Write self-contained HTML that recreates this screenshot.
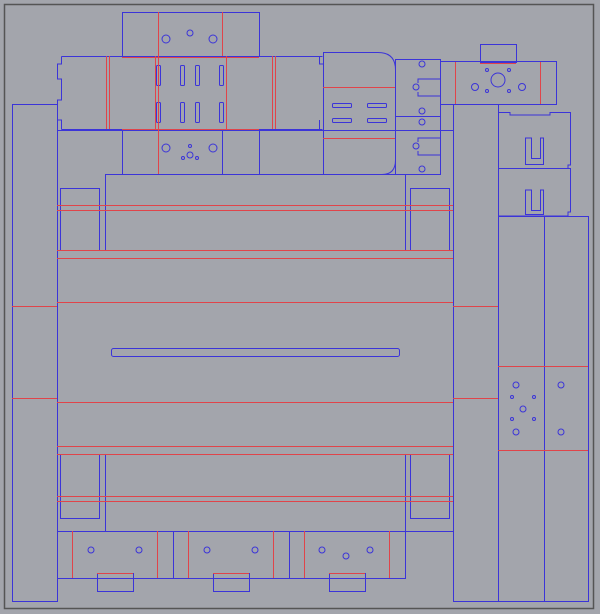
<!DOCTYPE html><html><head><style>html,body{margin:0;padding:0;background:#a3a5ac}svg{display:block}</style></head><body>
<svg width="600" height="614" viewBox="0 0 600 614" xmlns="http://www.w3.org/2000/svg">
<rect width="600" height="614" fill="#a3a5ac"/>
<rect x="4.5" y="4.5" width="589" height="604" fill="none" stroke="#555" stroke-width="1.5"/>
<g fill="none" stroke="#3b34d8" stroke-width="1">
<rect x="12.5" y="104.5" width="45" height="497"/>
<rect x="57.5" y="130.5" width="396" height="401"/>
<rect x="105.5" y="174.5" width="300" height="76"/>
<rect x="60.5" y="188.5" width="39" height="62"/>
<rect x="410.5" y="188.5" width="39" height="62"/>
<rect x="111.5" y="348.5" width="288" height="8" rx="2"/>
<rect x="105.5" y="454.5" width="300" height="77"/>
<rect x="60.5" y="454.5" width="39" height="64"/>
<rect x="410.5" y="454.5" width="39" height="64"/>
<rect x="57.5" y="531.5" width="348" height="47"/>
<line x1="173.5" y1="531" x2="173.5" y2="578"/>
<line x1="289.5" y1="531" x2="289.5" y2="578"/>
<rect x="97.5" y="573.5" width="36" height="18"/>
<rect x="213.5" y="573.5" width="36" height="18"/>
<rect x="329.5" y="573.5" width="36" height="18"/>
<circle cx="91" cy="550" r="3"/><circle cx="139" cy="550" r="3"/>
<circle cx="207" cy="550" r="3"/><circle cx="255" cy="550" r="3"/>
<circle cx="322" cy="550" r="3"/><circle cx="370" cy="550" r="3"/><circle cx="346" cy="556" r="3"/>
<rect x="453.5" y="104.5" width="45" height="497"/>
<rect x="498.5" y="216.5" width="90" height="385"/>
<line x1="544.5" y1="216" x2="544.5" y2="601"/>
<circle cx="516" cy="385" r="3"/><circle cx="561" cy="385" r="3"/>
<circle cx="516" cy="432" r="3"/><circle cx="561" cy="432" r="3"/>
<circle cx="523" cy="409" r="3"/>
<circle cx="512" cy="397" r="1.5"/><circle cx="534" cy="397" r="1.5"/><circle cx="512" cy="419" r="1.5"/><circle cx="534" cy="419" r="1.5"/>
<rect x="122.5" y="12.5" width="137" height="44"/>
<circle cx="166" cy="39" r="4"/><circle cx="190" cy="33" r="3"/><circle cx="213" cy="39" r="4"/>
<path d="M61.5 56.5 H322.5 M61.5 129.5 H322.5 M61.5 56.5 V64 H57.5 V79 H61.5 V100 H57.5 V120 H61.5 V129.5 M319.5 56.5 V64 H323 M319.5 129.5 V120"/>
<g>
<rect x="156.5" y="65.5" width="4" height="20" rx="1"/><rect x="180.5" y="65.5" width="4" height="20" rx="1"/><rect x="195.5" y="65.5" width="4" height="20" rx="1"/><rect x="219.5" y="65.5" width="4" height="20" rx="1"/>
<rect x="156.5" y="102.5" width="4" height="20" rx="1"/><rect x="180.5" y="102.5" width="4" height="20" rx="1"/><rect x="195.5" y="102.5" width="4" height="20" rx="1"/><rect x="219.5" y="102.5" width="4" height="20" rx="1"/>
</g>
<line x1="122.5" y1="130" x2="122.5" y2="174"/><line x1="222.5" y1="130" x2="222.5" y2="174"/><line x1="259.5" y1="130" x2="259.5" y2="174"/>
<circle cx="166" cy="148" r="4"/><circle cx="213" cy="148" r="4"/><circle cx="190" cy="155" r="3"/>
<circle cx="190" cy="146" r="1.5"/><circle cx="183" cy="158" r="1.5"/><circle cx="197" cy="158" r="1.5"/>
<path d="M323.5 52.5 H378 Q395.5 52.5 395.5 70 V160 Q395.5 174.5 382 174.5 H323.5 Z"/>
<rect x="332.5" y="103.5" width="19" height="4" rx="1"/><rect x="367.5" y="103.5" width="19" height="4" rx="1"/>
<rect x="332.5" y="118.5" width="19" height="4" rx="1"/><rect x="367.5" y="118.5" width="19" height="4" rx="1"/>
<rect x="395.5" y="59.5" width="45" height="57"/>
<rect x="395.5" y="116.5" width="45" height="58"/>
<circle cx="422" cy="64" r="3"/><circle cx="416" cy="87" r="3"/><circle cx="422" cy="111" r="3"/>
<circle cx="422" cy="122" r="3"/><circle cx="416" cy="146" r="3"/><circle cx="422" cy="169" r="3"/>
<path d="M440 79 H418 V83 M440 96 H418 V92"/>
<path d="M440 138 H418 V142 M440 155 H418 V151"/>
<rect x="440.5" y="61.5" width="116" height="43"/>
<rect x="480.5" y="44.5" width="36" height="18"/>
<circle cx="498" cy="80" r="7"/><circle cx="475" cy="87" r="3.5"/><circle cx="522" cy="87" r="3.5"/>
<circle cx="487" cy="70" r="1.5"/><circle cx="509" cy="70" r="1.5"/><circle cx="487" cy="91" r="1.5"/><circle cx="509" cy="91" r="1.5"/>
<path d="M498.5 112.5 H510 V115 H550 V112.5 H570.5 V165 H568 V168.5 H498.5 Z"/>
<path d="M498.5 168.5 H570.5 V212 H568 V216 H498.5 Z"/>
<path d="M525.5 138 V164.5 H543.5 V138 H540.5 V158.5 H531.5 V138 Z"/>
<path d="M525.5 190 V214.5 H543.5 V190 H540.5 V210.5 H531.5 V190 Z"/>
</g>
<g stroke="#e0444a" stroke-width="1" fill="none">
<line x1="12" y1="306.5" x2="57" y2="306.5"/><line x1="12" y1="398.5" x2="57" y2="398.5"/>
<line x1="453" y1="306.5" x2="498" y2="306.5"/><line x1="453" y1="398.5" x2="498" y2="398.5"/>
<line x1="498" y1="366.5" x2="588" y2="366.5"/><line x1="498" y1="450.5" x2="588" y2="450.5"/>
<line x1="57" y1="205.5" x2="453" y2="205.5"/><line x1="57" y1="210.5" x2="453" y2="210.5"/>
<line x1="57" y1="250.5" x2="453" y2="250.5"/><line x1="57" y1="258.5" x2="453" y2="258.5"/>
<line x1="57" y1="302.5" x2="453" y2="302.5"/><line x1="57" y1="402.5" x2="453" y2="402.5"/>
<line x1="57" y1="446.5" x2="453" y2="446.5"/><line x1="57" y1="454.5" x2="453" y2="454.5"/>
<line x1="57" y1="496.5" x2="453" y2="496.5"/><line x1="57" y1="501.5" x2="453" y2="501.5"/>
<line x1="72.5" y1="531" x2="72.5" y2="578"/><line x1="157.5" y1="531" x2="157.5" y2="578"/>
<line x1="188.5" y1="531" x2="188.5" y2="578"/><line x1="273.5" y1="531" x2="273.5" y2="578"/>
<line x1="304.5" y1="531" x2="304.5" y2="578"/><line x1="389.5" y1="531" x2="389.5" y2="578"/>
<line x1="97" y1="573.5" x2="133" y2="573.5"/><line x1="213" y1="573.5" x2="249" y2="573.5"/><line x1="329" y1="573.5" x2="365" y2="573.5"/>
<line x1="158.5" y1="12" x2="158.5" y2="174"/><line x1="222.5" y1="12" x2="222.5" y2="56"/>
<line x1="106.5" y1="56" x2="106.5" y2="129"/><line x1="109.5" y1="56" x2="109.5" y2="129"/>
<line x1="155.5" y1="56" x2="155.5" y2="129"/><line x1="226.5" y1="56" x2="226.5" y2="129"/>
<line x1="272.5" y1="56" x2="272.5" y2="129"/><line x1="275.5" y1="56" x2="275.5" y2="129"/>
<line x1="122" y1="57.5" x2="259" y2="57.5"/><line x1="122" y1="129.5" x2="259" y2="129.5"/>
<line x1="323" y1="87.5" x2="395" y2="87.5"/><line x1="323" y1="138.5" x2="395" y2="138.5"/>
<line x1="455.5" y1="62" x2="455.5" y2="104"/><line x1="540.5" y1="62" x2="540.5" y2="104"/>
<line x1="480" y1="63.5" x2="516" y2="63.5"/>
</g>
</svg>
</body></html>
